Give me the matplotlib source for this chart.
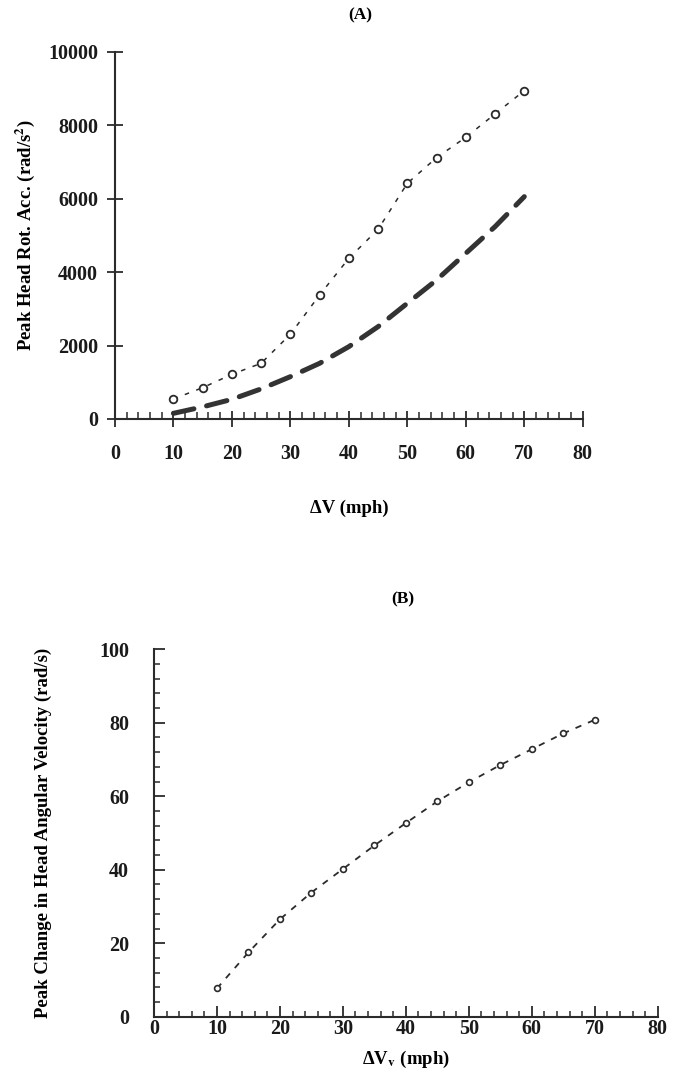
import matplotlib
matplotlib.use("Agg")
import matplotlib.pyplot as plt
from matplotlib.ticker import MultipleLocator

plt.rcParams["font.family"] = ["Liberation Serif", "DejaVu Serif"]
plt.rcParams["font.weight"] = "bold"
plt.rcParams["axes.labelweight"] = "bold"
plt.rcParams["mathtext.fontset"] = "stix"
INK = "#2b2b2b"

# panel A: peak head rotational acceleration vs delta-V
dv = [10, 15, 20, 25, 30, 35, 40, 45, 50, 55, 60, 65, 70]
acc_pts = [545, 853, 1217, 1517, 2307, 3379, 4378, 5168, 6421, 7121, 7675, 8311, 8946]
acc_fit = [154, 330, 536, 820, 1153, 1517, 1971, 2516, 3153, 3787, 4514, 5241, 6058]

# panel B: peak change in head angular velocity vs delta-V
omega = [7.7, 17.5, 26.5, 33.8, 40.2, 46.6, 52.7, 58.6, 63.8, 68.5, 72.8, 77.1, 80.8]

fig = plt.figure(figsize=(6.84, 10.76), dpi=100)

def style(ax):
    for s in ("top", "right"):
        ax.spines[s].set_visible(False)
    for s in ("left", "bottom"):
        ax.spines[s].set_color(INK)
        ax.spines[s].set_linewidth(1.5)
    ax.tick_params(colors=INK, labelcolor="#1a1a1a", labelsize=14.5, width=1.3)

# ---- (A)
axA = fig.add_axes([0.168, 0.6106, 0.684, 0.3411])
axA.plot(dv, acc_pts, linestyle=(0, (3, 5)), color=INK, lw=1.1,
         marker="o", ms=5.5, mfc="white", mec=INK, mew=1.3)
axA.plot(dv, acc_fit, linestyle=(0, (4.2, 2.6)), color="#333333", lw=3.6,
         dash_capstyle="round")
axA.set_xlim(0, 80)
axA.set_ylim(0, 10000)
axA.xaxis.set_major_locator(MultipleLocator(10))
axA.xaxis.set_minor_locator(MultipleLocator(2))
axA.yaxis.set_major_locator(MultipleLocator(2000))
axA.tick_params(axis="x", which="major", direction="inout", length=12, pad=12)
axA.tick_params(axis="x", which="minor", direction="in", length=5, width=1.1, colors=INK)
axA.tick_params(axis="y", which="major", direction="inout", length=12, pad=6)
style(axA)
axA.set_xlabel("ΔV (mph)", fontsize=13.5, labelpad=26)
axA.set_ylabel("Peak Head Rot. Acc. (rad/s$^\\mathbf{2}$)", fontsize=13.5, labelpad=8)
fig.text(0.526, 0.986, "(A)", ha="center", va="center", fontsize=12.5)

# ---- (B)
axB = fig.add_axes([0.2251, 0.0551, 0.7365, 0.3415])
axB.plot(dv, omega, linestyle=(0, (3.5, 4)), color=INK, lw=1.3,
         marker="o", ms=4.2, mfc="white", mec=INK, mew=1.2)
axB.set_xlim(0, 80)
axB.set_ylim(0, 100)
axB.xaxis.set_major_locator(MultipleLocator(10))
axB.xaxis.set_minor_locator(MultipleLocator(2))
axB.yaxis.set_major_locator(MultipleLocator(20))
axB.yaxis.set_minor_locator(MultipleLocator(4))
axB.tick_params(axis="both", which="major", direction="in", length=8, pad=2)
axB.tick_params(axis="both", which="minor", direction="in", length=4.5, width=1.1, colors=INK)
axB.tick_params(axis="y", which="major", pad=18)
style(axB)
axB.set_xlabel("ΔV$_\\mathbf{v}$ (mph)", fontsize=13.5, labelpad=7)
axB.set_ylabel("Peak Change in Head Angular Velocity (rad/s)", fontsize=13.5, labelpad=34)
fig.text(0.589, 0.443, "(B)", ha="center", va="center", fontsize=12.5)

fig.savefig("out.png", dpi=100)
